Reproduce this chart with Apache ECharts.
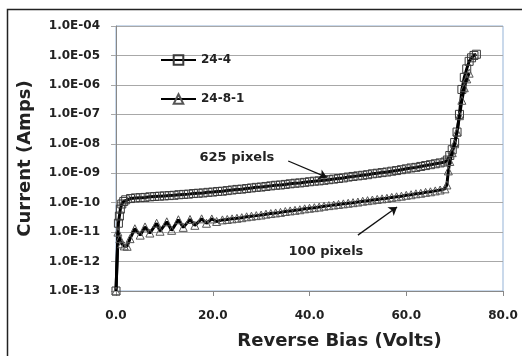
<!DOCTYPE html>
<html>
<head>
<meta charset="utf-8">
<script src="https://cdn.jsdelivr.net/npm/echarts@6/dist/echarts.min.js"></script>
<style>
html,body{margin:0;padding:0;background:#fff;}
#main{width:522px;height:356px;}
</style>
</head>
<body>
<div id="main"></div>
<script>
// 24-4 (625 pixels), squares
var biasA = [0,0.5,0.7,0.9,1.2,1.6,2,3,4,5,6,7,8,9,10,11,12,13,14,15,16,17,18,19,20,
	21,22,23,24,25,26,27,28,29,30,31,32,33,34,35,36,37,38,39,40,
	41,42,43,44,45,46,47,48,49,50,51,52,53,54,55,56,57,58,59,60,
	61,62,63,64,65,66,67,68,
	68.5,69,69.5,70,70.5,71,71.5,72,72.5,73,73.5,74,74.5];
var currentA = [1e-13,2e-11,3.5e-11,6e-11,9e-11,1.1e-10,1.25e-10,1.38e-10,1.45e-10,1.48e-10,1.51e-10,1.58e-10,1.62e-10,1.66e-10,1.70e-10,1.74e-10,1.78e-10,1.86e-10,1.91e-10,1.95e-10,2.04e-10,2.09e-10,2.14e-10,2.24e-10,2.29e-10,
	2.40e-10,2.45e-10,2.57e-10,2.69e-10,2.82e-10,2.88e-10,3.02e-10,3.16e-10,3.31e-10,3.39e-10,
	3.55e-10,3.72e-10,3.89e-10,3.98e-10,4.17e-10,4.37e-10,4.57e-10,4.68e-10,4.90e-10,5.13e-10,
	5.37e-10,5.50e-10,5.75e-10,6.03e-10,6.31e-10,6.61e-10,6.92e-10,7.41e-10,7.76e-10,8.13e-10,
	8.51e-10,8.91e-10,9.55e-10,1.0e-9,1.05e-9,1.10e-9,1.17e-9,1.23e-9,1.32e-9,1.41e-9,
	1.51e-9,1.58e-9,1.70e-9,1.82e-9,1.95e-9,2.09e-9,2.24e-9,2.40e-9,
	2.8e-9,4.0e-9,6.3e-9,1.1e-8,2.5e-8,1.0e-7,7e-7,1.8e-6,3.5e-6,6.3e-6,8.3e-6,1.0e-5,1.1e-5];

// 24-8-1 (100 pixels), triangles
var biasB = [0,0.4,0.8,1.2,1.7,2.3,2.9,3.9,5,6,7,8.4,9.1,10.5,11.5,12.9,13.9,15.3,16.3,17.7,18.7,19.8,20.8,22,
	23,24,25,26,27,28,29,30,31,32,33,34,35,36,37,38,39,40,
	41,42,43,44,45,46,47,48,49,50,51,52,53,54,55,56,57,58,59,60,
	61,62,63,64,65,66,67,68,
	68.4,68.7,69,69.5,70,70.5,71,71.5,72,72.5,73];
var currentB = [1e-13,1.0e-11,6e-12,4e-12,3.4e-12,3.3e-12,6e-12,1.3e-11,7.9e-12,1.5e-11,9.3e-12,2.0e-11,1.07e-11,2.24e-11,1.15e-11,2.63e-11,1.45e-11,2.69e-11,1.7e-11,2.82e-11,2.0e-11,2.8e-11,2.3e-11,2.6e-11,
	2.69e-11,2.82e-11,2.95e-11,3.09e-11,3.31e-11,3.47e-11,3.63e-11,3.80e-11,
	4.07e-11,4.27e-11,4.47e-11,4.68e-11,5.01e-11,5.25e-11,5.50e-11,5.75e-11,6.17e-11,6.46e-11,
	6.76e-11,7.08e-11,7.59e-11,7.94e-11,8.32e-11,8.71e-11,9.12e-11,9.55e-11,1.0e-10,1.05e-10,
	1.12e-10,1.17e-10,1.23e-10,1.29e-10,1.35e-10,1.41e-10,1.51e-10,1.58e-10,1.66e-10,1.78e-10,
	1.86e-10,2.0e-10,2.09e-10,2.24e-10,2.34e-10,2.51e-10,2.69e-10,2.95e-10,
	4e-10,1.2e-9,2.5e-9,5e-9,1.0e-8,2.5e-8,9e-8,3e-7,8e-7,1.6e-6,2.5e-6];

var seriesNames = ['24-4', '24-8-1'];

function pairs(xs, ys){
	var out = [];
	for(var i=0;i<xs.length;i++){ out.push([xs[i], ys[i]]); }
	return out;
}
function sci(v){
	var e = Math.round(Math.log10(v));
	var a = Math.abs(e);
	return '1.0E' + (e<0?'-':'+') + (a<10?'0'+a:''+a);
}

var FONT = 'DejaVu Sans';
var myChart = echarts.init(document.getElementById('main'));
var gridCol = [];
for(var k=0;k<9;k++) gridCol.push('#a8a8a8');
gridCol.push('#95b3d7');

var option = {
	animation: false,
	backgroundColor: '#fff',
	grid: {
		left: 116, right: 19, top: 26, bottom: 65,
		show: true, borderColor: '#95b3d7', borderWidth: 1, backgroundColor: 'transparent'
	},
	legend: {
		data: seriesNames,
		orient: 'vertical',
		left: 155, top: 49,
		itemGap: 27,
		itemWidth: 35, itemHeight: 12,
		textStyle: {fontFamily: FONT, fontWeight: 'bold', fontSize: 12, color: '#222'}
	},
	xAxis: {
		type: 'value', min: 0, max: 80, interval: 20,
		name: 'Reverse Bias (Volts)',
		nameLocation: 'middle', nameGap: 41,
		nameTextStyle: {fontFamily: FONT, fontWeight: 'bold', fontSize: 18, color: '#222', padding: [0,0,0,60]},
		axisLine: {lineStyle: {color: '#888', width: 1}},
		axisTick: {show: true, length: 5, lineStyle: {color: '#888'}},
		axisLabel: {margin: 19, fontFamily: FONT, fontWeight: 'bold', fontSize: 12, color: '#222',
			formatter: function(v){ return v.toFixed(1); }},
		splitLine: {show: false}
	},
	yAxis: {
		type: 'log', logBase: 10, min: 1e-13, max: 1e-4, interval: 1,
		name: 'Current (Amps)',
		nameLocation: 'middle', nameGap: 82, nameRotate: 90,
		nameTextStyle: {fontFamily: FONT, fontWeight: 'bold', fontSize: 18, color: '#222'},
		axisLine: {show: true, lineStyle: {color: '#888', width: 1}},
		axisTick: {show: true, length: 5, lineStyle: {color: '#a8a8a8'}},
		axisLabel: {margin: 16, fontFamily: FONT, fontWeight: 'bold', fontSize: 12, color: '#222',
			formatter: function(v){ return sci(v); }},
		splitLine: {show: true, lineStyle: {color: gridCol, width: 1}}
	},
	series: [
		{
			name: seriesNames[0], type: 'line',
			data: pairs(biasA, currentA),
			symbol: 'rect', symbolSize: 8,
			showAllSymbol: true,
			lineStyle: {color: '#000', width: 3},
			itemStyle: {color: 'rgba(255,255,255,0)', borderColor: '#3a3a3a', borderWidth: 1},
			z: 2,
			markPoint: {
				silent: true, symbol: 'circle', symbolSize: 0,
				label: {show: true, fontFamily: FONT, fontWeight: 'bold', fontSize: 13, color: '#222'},
				data: [
					{coord: [25, 3.3e-9], label: {formatter: '625 pixels'}},
					{coord: [43.4, 2.1e-12], label: {formatter: '100 pixels'}}
				]
			},
			markLine: {
				silent: true, symbol: ['none', 'arrow'], symbolSize: 8,
				lineStyle: {color: '#111', width: 1.3, type: 'solid'},
				label: {show: false},
				data: [
					[{coord: [35.6, 2.6e-9]}, {coord: [43.6, 7.2e-10]}],
					[{coord: [50.0, 7.9e-12]}, {coord: [58.1, 7.1e-11]}]
				]
			}
		},
		{
			name: seriesNames[1], type: 'line',
			data: pairs(biasB, currentB),
			symbol: 'triangle', symbolSize: 8,
			showAllSymbol: true,
			lineStyle: {color: '#000', width: 3},
			itemStyle: {color: 'rgba(255,255,255,0)', borderColor: '#555', borderWidth: 1},
			z: 3
		}
	],
	graphic: [
		{type: 'rect', left: 5, top: 7, shape: {width: 516, height: 352},
			style: {fill: 'none', stroke: '#222', lineWidth: 1.5}, silent: true}
	]
};
myChart.setOption(option);
</script>
</body>
</html>
